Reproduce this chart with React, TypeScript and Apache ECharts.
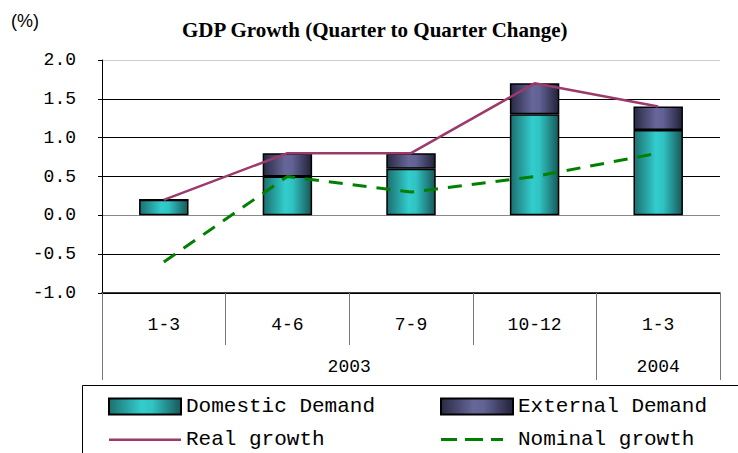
import React, { useEffect, useRef } from "react";
import * as echarts from "echarts";

const quarters = ["1-3", "4-6", "7-9", "10-12", "1-3"];
const yearSpans: [string, number][] = [
  ["2003", 4],
  ["2004", 1],
];
const domesticDemand = [0.2, 0.5, 0.6, 1.3, 1.1];
const externalDemand = [0.0, 0.3, 0.2, 0.4, 0.3];
const realGrowth = [0.2, 0.8, 0.8, 1.7, 1.4];
const nominalGrowth = [-0.6, 0.5, 0.3, 0.5, 0.8];
const yTicks = [-1.0, -0.5, 0.0, 0.5, 1.0, 1.5, 2.0];

export default function App() {
  const ref = useRef<HTMLDivElement>(null);
  useEffect(() => {
    if (!ref.current) return;
    const chart = echarts.init(ref.current, null, { renderer: "svg" });

    const yearBounds: number[] = [0];
    const yearCenters: number[] = [];
    let acc = 0;
    yearSpans.forEach(([, n]) => {
      yearCenters.push(acc + n / 2);
      acc += n;
      yearBounds.push(acc);
    });

    const tealGrad = new echarts.graphic.LinearGradient(0, 0, 1, 0, [
      { offset: 0, color: "#1c6f6f" },
      { offset: 0.45, color: "#33cccc" },
      { offset: 0.6, color: "#30c4c4" },
      { offset: 1, color: "#185858" },
    ]);
    const purpleGrad = new echarts.graphic.LinearGradient(0, 0, 1, 0, [
      { offset: 0, color: "#2a2a44" },
      { offset: 0.45, color: "#666699" },
      { offset: 0.6, color: "#626294" },
      { offset: 1, color: "#22223a" },
    ]);

    const axisFont = "'Liberation Mono', monospace";
    const solidIcon = "path://M0,0L0,16L0,0Z M0,7H72V9.5H0Z";
    const dashIcon =
      "path://M0,0L0,16L0,0Z M0,6.5H16V9.5H0Z M24,6.5H42V9.5H24Z M50,6.5H62V9.5H50Z M72,8L72,8.01Z";

    chart.setOption({
      animation: false,
      backgroundColor: "#ffffff",
      title: [
        {
          text: "GDP Growth (Quarter to Quarter Change)",
          left: 177,
          top: 14,
          textStyle: {
            fontFamily: "'Liberation Serif', serif",
            fontWeight: "bold",
            fontSize: 21,
            color: "#000",
          },
        },
        {
          text: "(%)",
          left: 6,
          top: 7,
          textStyle: {
            fontFamily: "'Liberation Sans', sans-serif",
            fontWeight: "normal",
            fontSize: 18,
            color: "#000",
          },
        },
      ],
      grid: { left: 102, right: 18, top: 60, bottom: 160, containLabel: false },
      legend: [
        {
          orient: "vertical",
          left: 108,
          top: 396,
          padding: 0,
          itemWidth: 72,
          itemHeight: 16,
          itemGap: 12,
          data: [
            { name: "Domestic Demand", icon: "rect" },
            { name: "Real growth", icon: solidIcon },
          ],
          textStyle: { fontFamily: axisFont, fontSize: 21, color: "#000", lineHeight: 20 },
        },
        {
          orient: "vertical",
          left: 440,
          top: 396,
          padding: 0,
          itemWidth: 72,
          itemHeight: 16,
          itemGap: 12,
          data: [
            { name: "External Demand", icon: "rect" },
            { name: "Nominal growth", icon: dashIcon },
          ],
          textStyle: { fontFamily: axisFont, fontSize: 21, color: "#000", lineHeight: 20 },
        },
      ],
      graphic: [
        {
          type: "rect",
          shape: { x: 82.5, y: 385.5, width: 700, height: 100 },
          style: { fill: "none", stroke: "#000", lineWidth: 1 },
          silent: true,
        },
      ],
      xAxis: [
        {
          type: "category",
          data: quarters,
          boundaryGap: true,
          position: "bottom",
          axisLine: { show: true, onZero: false, lineStyle: { color: "#000", width: 1.5 } },
          axisTick: {
            show: true,
            interval: 0,
            length: 52,
            lineStyle: { color: "#777", width: 1 },
          },
          axisLabel: {
            interval: 0,
            margin: 23,
            fontFamily: axisFont,
            fontSize: 18,
            color: "#000",
          },
          splitLine: { show: false },
        },
        {
          type: "value",
          min: 0,
          max: quarters.length,
          position: "bottom",
          axisLine: { show: false, onZero: false },
          axisTick: {
            show: true,
            customValues: yearBounds,
            length: 87,
            lineStyle: { color: "#777", width: 1 },
          },
          axisLabel: {
            customValues: yearCenters,
            margin: 65,
            fontFamily: axisFont,
            fontSize: 18,
            color: "#000",
            formatter: (v: number) => {
              const i = yearCenters.findIndex((c) => Math.abs(c - v) < 1e-6);
              return i >= 0 ? yearSpans[i][0] : "";
            },
          },
          splitLine: { show: false },
        },
      ],
      yAxis: {
        type: "value",
        min: -1,
        max: 2,
        interval: 0.5,
        axisLine: { show: true, onZero: false, lineStyle: { color: "#000", width: 1 } },
        axisTick: { show: true, length: 4, lineStyle: { color: "#000" } },
        axisLabel: {
          margin: 26,
          fontFamily: axisFont,
          fontSize: 18,
          color: "#000",
          formatter: (v: number) => v.toFixed(1),
        },
        splitLine: {
          show: true,
          lineStyle: {
            color: yTicks.map((t) => (t === 0 ? "#888" : t === 2 ? "#ccc" : "#000")),
            width: 1,
          },
        },
      },
      series: [
        {
          name: "Domestic Demand",
          type: "bar",
          stack: "gdp",
          data: domesticDemand,
          barWidth: "40%",
          itemStyle: { color: tealGrad, borderColor: "#000", borderWidth: 1.5 },
          z: 2,
        },
        {
          name: "External Demand",
          type: "bar",
          stack: "gdp",
          data: externalDemand,
          barWidth: "40%",
          itemStyle: { color: purpleGrad, borderColor: "#000", borderWidth: 1.5 },
          z: 2,
        },
        {
          name: "Real growth",
          type: "line",
          data: realGrowth,
          symbol: "none",
          lineStyle: { color: "#9c3a6c", width: 2.5 },
          itemStyle: { color: "#9c3a6c" },
          z: 3,
        },
        {
          name: "Nominal growth",
          type: "line",
          data: nominalGrowth,
          symbol: "none",
          lineStyle: { color: "#008000", width: 3, type: [14, 10] },
          itemStyle: { color: "#008000" },
          z: 3,
        },
      ],
    });
    return () => chart.dispose();
  }, []);
  return (
    <div
      ref={ref}
      style={{ position: "fixed", left: 0, top: 0, width: 738, height: 453, background: "#fff" }}
    />
  );
}
